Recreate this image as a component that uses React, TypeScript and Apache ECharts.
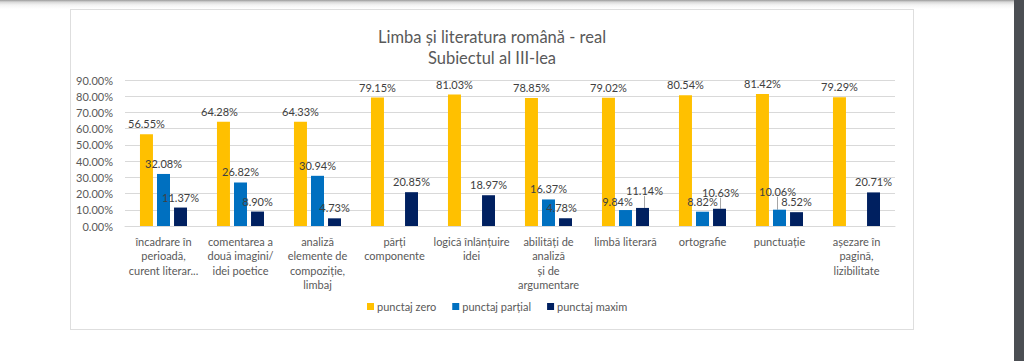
import React, { useEffect, useRef } from "react";
import * as echarts from "echarts";

const categories = [
  "încadrare în\nperioadă,\ncurent literar...",
  "comentarea a\ndouă imagini/\nidei poetice",
  "analiză\nelemente de\ncompoziție,\nlimbaj",
  "părți\ncomponente",
  "logică înlănțuire\nidei",
  "abilități de\nanaliză\nși de\nargumentare",
  "limbă literară",
  "ortografie",
  "punctuație",
  "așezare în\npagină,\nlizibilitate",
];

const punctajZero = [56.55, 64.28, 64.33, 79.15, 81.03, 78.85, 79.02, 80.54, 81.42, 79.29];
const punctajPartial = [32.08, 26.82, 30.94, null, null, 16.37, 9.84, 8.82, 10.06, null];
const punctajMaxim = [11.37, 8.9, 4.73, 20.85, 18.97, 4.78, 11.14, 10.63, 8.52, 20.71];

const seriesNames = ["punctaj zero", "punctaj parțial", "punctaj maxim"];
const titleLines = ["Limba și literatura română - real", "Subiectul al III-lea"];

// label nudges (series index -> data index -> [dx, dy, showLeaderLine])
const labelNudges: Record<number, Record<number, [number, number, boolean]>> = {
  0: { 1: [-4, 0, false] },
  1: { 6: [-8, 2, false], 8: [-2, -8, true] },
  2: { 5: [-4, 0, false], 6: [2, -7, true], 7: [1, -6, true] },
};

const FONT = "Lato, 'Open Sans', sans-serif";

export default function App() {
  const ref = useRef<HTMLDivElement>(null);
  useEffect(() => {
    if (!ref.current) return;
    const chart = echarts.init(ref.current, undefined, { renderer: "svg" });
    const colors = ["#FFC000", "#0070C0", "#002060"];
    const datas = [punctajZero, punctajPartial, punctajMaxim];
    chart.setOption({
      animation: false,
      textStyle: { fontFamily: FONT },
      title: {
        text: titleLines.join("\n"),
        left: 487,
        top: 21,
        textAlign: "center",
        textStyle: {
          fontFamily: FONT,
          fontSize: 16.5,
          fontWeight: "normal",
          color: "#595959",
          lineHeight: 21,
        },
      },
      legend: {
        bottom: 44,
        left: 362,
        itemWidth: 7,
        itemHeight: 7,
        itemGap: 16,
        icon: "rect",
        textStyle: { fontFamily: FONT, fontSize: 11, color: "#595959", padding: [0, 0, 0, -2] },
        data: seriesNames,
      },
      grid: { left: 125, right: 129, top: 80, bottom: 135, containLabel: false },
      xAxis: {
        type: "category",
        data: categories,
        axisLine: { lineStyle: { color: "#d9d9d9" } },
        axisTick: { show: false },
        axisLabel: {
          interval: 0,
          fontFamily: FONT,
          fontSize: 11,
          color: "#595959",
          lineHeight: 14.5,
          margin: 8,
        },
      },
      yAxis: {
        type: "value",
        min: 0,
        max: 90,
        interval: 10,
        axisLine: { show: false },
        axisTick: { show: false },
        splitLine: { lineStyle: { color: "#d9d9d9" } },
        axisLabel: {
          fontFamily: FONT,
          fontSize: 11,
          color: "#595959",
          margin: 12,
          formatter: (v: number) => v.toFixed(2) + "%",
        },
      },
      series: datas.map((d, si) => ({
        name: seriesNames[si],
        type: "bar",
        data: d.map((v, i) => {
          const n = labelNudges[si] && labelNudges[si][i];
          return {
            value: v,
            labelLine: { show: !!(n && n[2]), lineStyle: { color: "#a6a6a6", width: 1 } },
          };
        }),
        barWidth: 13,
        barGap: "31%",
        itemStyle: { color: colors[si] },
        label: {
          show: true,
          position: "top",
          distance: 5,
          fontFamily: FONT,
          fontSize: 11,
          color: "#404040",
          formatter: (p: any) => Number(p.value).toFixed(2) + "%",
        },
        labelLine: { show: false },
        labelLayout: (params: any) => {
          const n = labelNudges[si] && labelNudges[si][params.dataIndex];
          return n ? { dx: n[0], dy: n[1] } : {};
        },
      })),
    });
    return () => chart.dispose();
  }, []);

  return (
    <div style={{ position: "absolute", left: 0, top: 0, width: 1024, height: 361, background: "#fff", overflow: "hidden" }}>
      <div style={{ position: "absolute", left: 0, top: 0, width: 1024, height: 9, background: "linear-gradient(#9a9a9a 0px, #d8d8d8 2px, #f4f4f4 5px, #ffffff 9px)" }} />
      <div style={{ position: "absolute", left: 1014, top: 0, width: 10, height: 361, background: "#4b4e53" }} />
      <div style={{ position: "absolute", left: 70, top: 9, width: 842, height: 319, border: "1px solid #dedede", boxSizing: "content-box" }} />
      <div ref={ref} style={{ position: "absolute", left: 0, top: 0, width: 1024, height: 361 }} />
    </div>
  );
}
